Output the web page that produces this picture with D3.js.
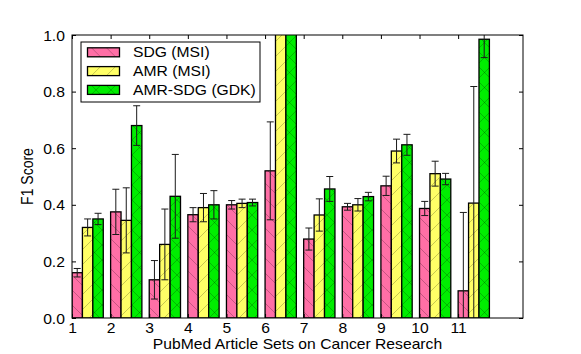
<!DOCTYPE html>
<html>
<head>
<meta charset="utf-8">
<script src="https://cdn.jsdelivr.net/npm/d3@7"></script>
<style>
  body { margin: 0; background: #fff; }
  text { font-family: "Liberation Sans", Arial, sans-serif; fill: #000; }
</style>
</head>
<body>
<svg id="chart" width="581" height="354"></svg>
<script>
// article sets on the x axis
var sets = [1, 2, 3, 4, 5, 6, 7, 8, 9, 10, 11];
var seriesNames = ["SDG (MSI)", "AMR (MSI)", "AMR-SDG (GDK)"];

// F1 means (set 6 AMR bars run past the top)
var sdgMean    = [0.16, 0.375, 0.135, 0.365, 0.400, 0.520, 0.279, 0.393, 0.467, 0.387, 0.096];
var amrMean    = [0.32, 0.345, 0.260, 0.390, 0.405, 1.100, 0.364, 0.400, 0.590, 0.510, 0.406];
var amrSdgMean = [0.35, 0.680, 0.430, 0.400, 0.408, 1.100, 0.456, 0.429, 0.612, 0.491, 0.985];

// error bar half-widths
var sdgErr    = [0.015, 0.080, 0.068, 0.025, 0.015, 0.173, 0.039, 0.012, 0.034, 0.025, 0.277];
var amrErr    = [0.030, 0.115, 0.125, 0.050, 0.015, 0.000, 0.057, 0.022, 0.042, 0.044, 0.412];
var amrSdgErr = [0.020, 0.070, 0.148, 0.050, 0.012, 0.000, 0.044, 0.015, 0.037, 0.020, 0.065];

var yTicks = [0, 0.2, 0.4, 0.6, 0.8, 1.0];

var colors = ["#ff6fa6", "#ffff66", "#00ee00"];
var hatches = ["back", "fwd", "cross"];

var margin = { top: 35, right: 58, bottom: 36, left: 72 },
  width = 581 - margin.left - margin.right,
  height = 354 - margin.top - margin.bottom;

var barW = 0.27;
var stretch = "scale(1.12,1)";

var x = d3.scaleLinear().domain([1, 12.68]).range([0, width]);
var y = d3.scaleLinear().domain([0, 1]).range([height, 0]);

var svg = d3.select("#chart");
var defs = svg.append("defs");

// hatch patterns like matplotlib's "\\", "/" and "x"
var p = 15;
hatches.forEach(function (h, i) {
  var pat = defs.append("pattern")
    .attr("id", "hatch" + i)
    .attr("patternUnits", "userSpaceOnUse")
    .attr("width", p).attr("height", p);
  pat.append("rect").attr("width", p).attr("height", p).attr("fill", colors[i]);
  var fwd = "M-1,1L1,-1M0," + p + "L" + p + ",0M" + (p - 1) + "," + (p + 1) + "L" + (p + 1) + "," + (p - 1);
  var back = "M-1," + (p - 1) + "L1," + (p + 1) + "M0,0L" + p + "," + p + "M" + (p - 1) + ",-1L" + (p + 1) + ",1";
  var d = h == "fwd" ? fwd : h == "back" ? back : fwd + back;
  pat.append("path").attr("d", d)
    .attr("stroke", "rgba(0,0,0,0.32)").attr("stroke-width", 0.7).attr("fill", "none");
});

defs.append("clipPath").attr("id", "plotClip")
  .append("rect").attr("width", width).attr("height", height);

var g = svg.append("g")
  .attr("transform", "translate(" + margin.left + "," + margin.top + ")");

var plot = g.append("g").attr("clip-path", "url(#plotClip)");

var series = [
  { mean: sdgMean, err: sdgErr },
  { mean: amrMean, err: amrErr },
  { mean: amrSdgMean, err: amrSdgErr }
];

var rows = [];
series.forEach(function (s, si) {
  sets.forEach(function (k, i) {
    rows.push({ s: si, set: k, v: s.mean[i], e: s.err[i] });
  });
});

plot.selectAll(".bar")
  .data(rows)
  .enter()
  .append("rect")
  .attr("class", "bar")
  .attr("x", function (d) { return x(d.set + d.s * barW); })
  .attr("width", function (d) { return x(d.set + (d.s + 1) * barW) - x(d.set + d.s * barW); })
  .attr("y", function (d) { return y(d.v); })
  .attr("height", function (d) { return height - y(d.v); })
  .attr("fill", function (d) { return "url(#hatch" + d.s + ")"; })
  .attr("stroke", "#000")
  .attr("stroke-width", 1.3);

// error bars
var errRows = rows.filter(function (d) { return d.e > 0; });
var eb = plot.selectAll(".err")
  .data(errRows)
  .enter()
  .append("g")
  .attr("class", "err")
  .attr("stroke", "#1a1a1a")
  .attr("stroke-width", 1);
var cx = function (d) { return x(d.set + (d.s + 0.5) * barW); };
eb.append("line")
  .attr("x1", cx).attr("x2", cx)
  .attr("y1", function (d) { return y(d.v - d.e); })
  .attr("y2", function (d) { return y(d.v + d.e); });
[-1, 1].forEach(function (sign) {
  eb.append("line")
    .attr("x1", function (d) { return cx(d) - 3.5; })
    .attr("x2", function (d) { return cx(d) + 3.5; })
    .attr("y1", function (d) { return y(d.v + sign * d.e); })
    .attr("y2", function (d) { return y(d.v + sign * d.e); });
});

// axes, ticks pointing inwards on all four sides
var xAxis = g.append("g")
  .attr("transform", "translate(0," + height + ")")
  .call(d3.axisBottom(x).tickValues(sets).tickFormat(d3.format("d")).tickSize(-4).tickPadding(5));
g.append("g")
  .call(d3.axisTop(x).tickValues(sets).tickFormat("").tickSize(-4));
var yAxis = g.append("g")
  .call(d3.axisLeft(y).tickValues(yTicks).tickFormat(d3.format(".1f")).tickSize(-4));
g.append("g")
  .attr("transform", "translate(" + width + ",0)")
  .call(d3.axisRight(y).tickValues(yTicks).tickFormat("").tickSize(-4));

g.selectAll(".domain").remove();
g.selectAll(".tick line").attr("stroke", "#000");

xAxis.selectAll("text")
  .attr("font-size", 14)
  .attr("transform", stretch);
yAxis.selectAll("text")
  .attr("font-size", 14)
  .attr("x", -6.3)
  .attr("dy", "0.36em")
  .attr("transform", stretch);

// frame
g.append("rect")
  .attr("width", width).attr("height", height)
  .attr("fill", "none").attr("stroke", "#000").attr("stroke-width", 1);

// axis titles
svg.append("text")
  .attr("transform", "translate(" + (margin.left + width / 2) + ",349) " + stretch)
  .attr("text-anchor", "middle")
  .attr("font-size", 14)
  .text("PubMed Article Sets on Cancer Research");

svg.append("text")
  .attr("transform", "translate(33," + (margin.top + height / 2) + ") rotate(-90) scale(1,1.12)")
  .attr("text-anchor", "middle")
  .attr("font-size", 14)
  .text("F1 Score");

// legend
var legend = svg.append("g").attr("transform", "translate(81,42)");
legend.append("rect")
  .attr("width", 179).attr("height", 60)
  .attr("fill", "#fff").attr("stroke", "#000").attr("stroke-width", 1);
var item = legend.selectAll(".item")
  .data(seriesNames)
  .enter()
  .append("g")
  .attr("class", "item")
  .attr("transform", function (d, i) { return "translate(0," + (10.3 + i * 18.8) + ")"; });
item.append("rect")
  .attr("x", 6.5).attr("y", -4.5)
  .attr("width", 32).attr("height", 9)
  .attr("fill", function (d, i) { return "url(#hatch" + i + ")"; })
  .attr("stroke", "#000").attr("stroke-width", 1.3);
item.append("text")
  .attr("transform", "translate(52,5) " + stretch)
  .attr("font-size", 14)
  .text(function (d) { return d; });
</script>
</body>
</html>
